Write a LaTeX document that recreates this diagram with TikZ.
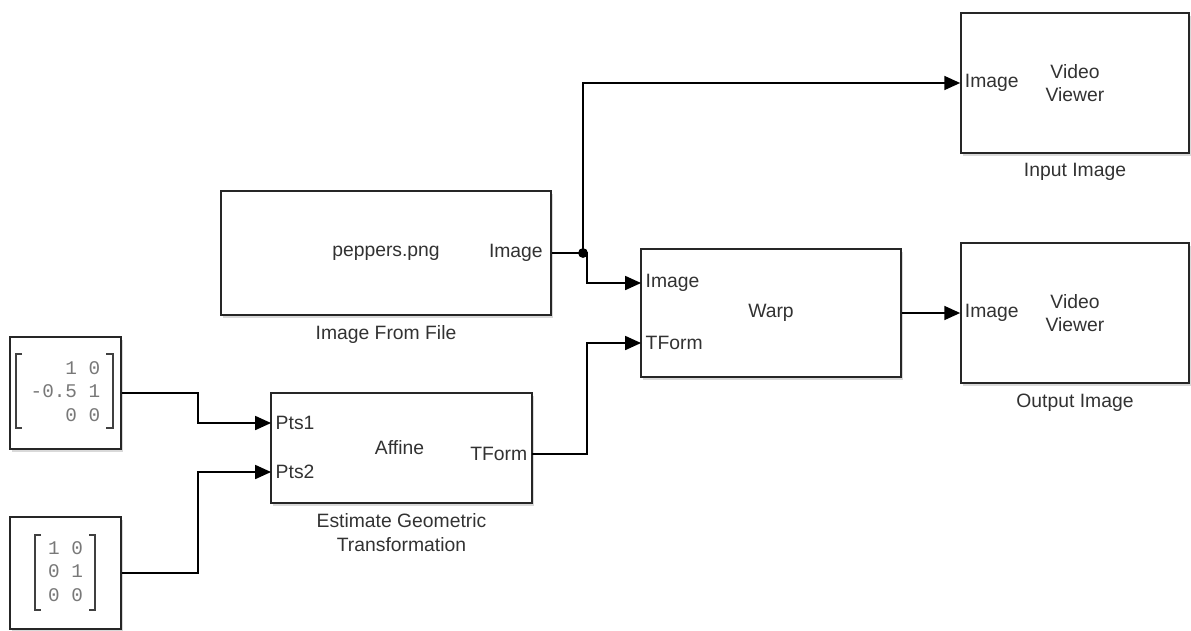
\documentclass[tikz,border=0pt]{standalone}
\usepackage{fontspec}
\setmainfont{Liberation Sans}
\setmonofont{Liberation Mono}
\usetikzlibrary{arrows.meta, positioning, shadows}
\definecolor{txtgray}{RGB}{50,50,50}
\definecolor{matgray}{RGB}{120,120,120}
\tikzset{
  blk/.style={rectangle, draw=black!85, line width=1pt, fill=white,
              drop shadow={shadow xshift=1.2pt, shadow yshift=-1.5pt,
                           opacity=0.3}},
  port/.style={inner sep=2.5pt, text=txtgray},
  blktxt/.style={text=txtgray, align=center},
  mat/.style={font=\ttfamily\fontsize{11}{13.5}\selectfont, text=matgray,
              inner sep=0pt},
  brk/.style={line width=0.8pt, draw=black!75},
  wire/.style={line width=0.8pt},
  sig/.style={wire, -{Triangle[length=9pt,width=8pt]}},
}

\begin{document}
\begin{tikzpicture}[x=0.02cm, y=-0.02cm, font=\fontsize{11}{13.5}\selectfont]
  \useasboundingbox (0,0) rectangle (1191,630);

  % blocks
  \node[blk, minimum width=6.6cm, minimum height=2.48cm] (file) at (386,253) {};
  \node[blk, minimum width=5.2cm, minimum height=2.56cm] (warp) at (771,313) {};
  \node[blk, minimum width=5.22cm, minimum height=2.2cm] (aff) at (401.5,448) {};
  \node[blk, minimum width=4.56cm, minimum height=2.8cm] (vin) at (1075,83) {};
  \node[blk, minimum width=4.56cm, minimum height=2.8cm] (vout) at (1075,313) {};
  \node[blk, minimum width=2.22cm, minimum height=2.24cm] (c1) at (65.5,393) {};
  \node[blk, minimum width=2.22cm, minimum height=2.24cm] (c2) at (65.5,573) {};

  % block texts
  \node[blktxt] (fileTxt) at (file) {peppers.png};
  \node[blktxt] (warpTxt) at (warp) {Warp};
  \node[blktxt] (affTxt) at (399.5,448) {Affine};
  \node[blktxt] (vinTxt) at (vin) {Video\\Viewer};
  \node[blktxt] (voutTxt) at (vout) {Video\\Viewer};
  \node[mat] (c1m) at (c1) {\begin{tabular}{@{}r@{\ }r@{}}1&0\\-0.5&1\\0&0\end{tabular}};
  \node[mat] (c2m) at (c2) {\begin{tabular}{@{}r@{\ }r@{}}1&0\\0&1\\0&0\end{tabular}};
  \draw[brk] (22,354) -- (16,354) -- (16,428) -- (22,428);
  \draw[brk] (106,354) -- (113,354) -- (113,428) -- (106,428);
  \draw[brk] (41,535) -- (35,535) -- (35,610) -- (41,610);
  \draw[brk] (89,535) -- (95,535) -- (95,610) -- (89,610);

  % ports
  \node[port, anchor=east] (fImg) at ([xshift=-2.5pt]file.east) {Image};
  \node[port, anchor=west] (wImg) at (641,283) {Image};
  \node[port, anchor=west] (wTF) at (641,343) {TForm};
  \node[port, anchor=west] (p1) at (271,423) {Pts1};
  \node[port, anchor=west] (p2) at (271,472) {Pts2};
  \node[port, anchor=east] (aTF) at (532,454) {TForm};
  \node[port, anchor=west] (inImg) at (vin.west) {Image};
  \node[port, anchor=west] (outImg) at (vout.west) {Image};

  % captions
  \node[blktxt, below=2pt of file] {Image From File};
  \node[blktxt, below=2pt of aff] {Estimate Geometric\\Transformation};
  \node[blktxt, below=2pt of vin] {Input Image};
  \node[blktxt, below=2pt of vout] {Output Image};

  % signals
  \coordinate (jn) at (583,253);
  \draw[wire] (file.east) -- (jn);
  \fill (jn) circle (2.8pt);
  \draw[sig] (jn) |- (inImg.west);
  \draw[sig] (jn) -- ++(4,0) |- (wImg.west);
  \draw[sig] (aTF.east) -- ++(55,0) |- (wTF.west);
  \draw[sig] (c1.east) -- ++(76,0) |- (p1.west);
  \draw[sig] (c2.east) -- ++(76,0) |- (p2.west);
  \draw[sig] (warp.east) -- (outImg.west);
\end{tikzpicture}
\end{document}
